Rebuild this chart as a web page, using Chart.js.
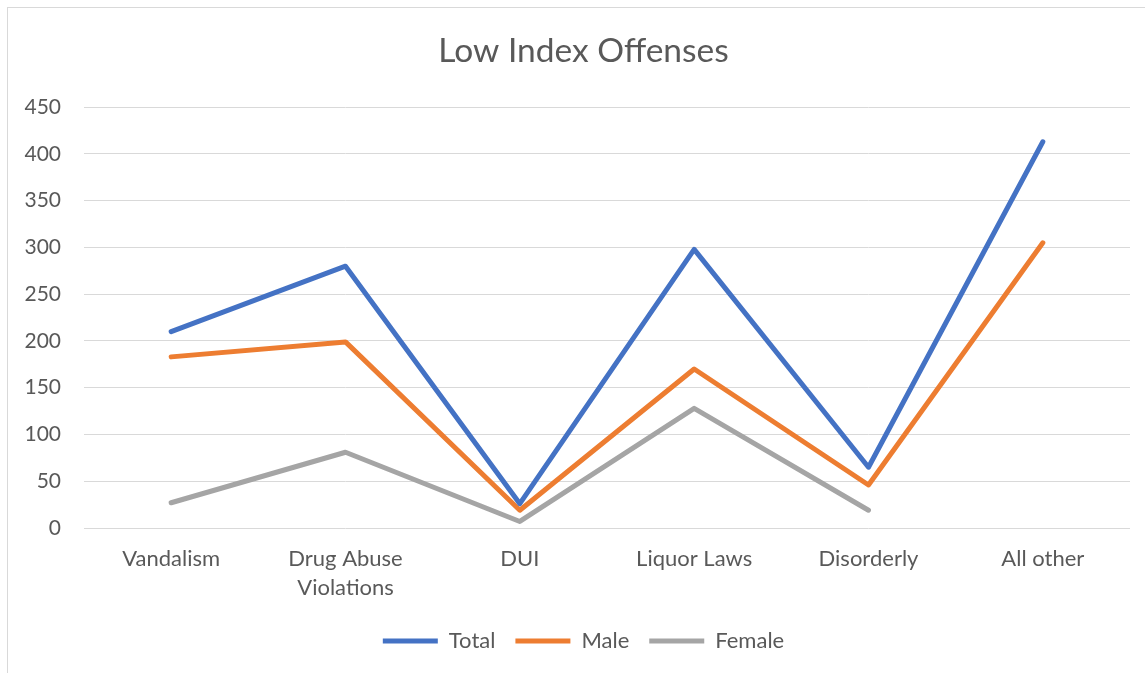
<!DOCTYPE html>
<html>
<head>
<meta charset="utf-8">
<script src="https://cdn.jsdelivr.net/npm/chart.js@4.4.0/dist/chart.umd.min.js"></script>
<style>
    html, body { margin: 0; padding: 0; background: #fff; overflow: hidden; }
    #wrap {
        position: absolute; left: 7px; top: 7px;
        width: 1153px; height: 680px;
        border: 1px solid #d9d9d9; box-sizing: border-box;
    }
    canvas { display: block; }
</style>
</head>
<body>
<div id="wrap"><canvas id="chart"></canvas></div>
<script>
// Datos
const categories = ['Vandalism', ['Drug Abuse', 'Violations'], 'DUI', 'Liquor Laws', 'Disorderly', 'All other'];
const totalValues = [210, 280, 26, 298, 65, 413];
const maleValues = [183, 199, 19, 170, 46, 305];
const femaleValues = [27, 81, 7, 128, 19, null];
const yTicks = [0, 50, 100, 150, 200, 250, 300, 350, 400, 450];

const textColor = '#595959';
const fontFamily = 'Lato, "Open Sans", sans-serif';

function lineDataset(label, data, color) {
    return {
        label: label,
        data: data,
        borderColor: color,
        backgroundColor: color,
        borderWidth: 5,
        borderCapStyle: 'round',
        borderJoinStyle: 'round',
        pointRadius: 0,
        pointHoverRadius: 0,
        tension: 0,
        spanGaps: false
    };
}

const ctx = document.getElementById('chart').getContext('2d');
new Chart(ctx, {
    type: 'line',
    data: {
        labels: categories,
        datasets: [
            lineDataset('Total', totalValues, '#4472C4'),
            lineDataset('Male', maleValues, '#ED7D31'),
            lineDataset('Female', femaleValues, '#A5A5A5')
        ]
    },
    options: {
        responsive: true,
        maintainAspectRatio: false,
        animation: false,
        layout: { padding: { left: 0, right: 0, top: 0, bottom: 24 } },
        plugins: {
            title: {
                display: true,
                text: 'Low Index Offenses',
                color: textColor,
                font: { family: fontFamily, size: 33.5, weight: 'normal', lineHeight: 1.2 },
                padding: { top: 23, bottom: 36 }
            },
            legend: {
                position: 'bottom',
                labels: {
                    color: textColor,
                    font: { family: fontFamily, size: 22 },
                    usePointStyle: true,
                    pointStyle: 'line',
                    pointStyleWidth: 55,
                    boxHeight: 22,
                    padding: 20
                }
            },
            tooltip: { enabled: false }
        },
        scales: {
            x: {
                offset: true,
                grid: { display: false },
                border: { display: false },
                ticks: {
                    color: textColor,
                    font: { family: fontFamily, size: 22, lineHeight: 1.32 },
                    padding: 8,
                    maxRotation: 0,
                    autoSkip: false
                },
                afterFit: function(scale) { scale.height = 82; }
            },
            y: {
                min: 0,
                max: 450,
                afterBuildTicks: function(scale) {
                    scale.ticks = yTicks.map(v => ({ value: v }));
                },
                grid: { color: '#d9d9d9', lineWidth: 1, drawTicks: false },
                border: { display: false },
                ticks: {
                    color: textColor,
                    font: { family: fontFamily, size: 21 },
                    padding: 23
                },
                afterFit: function(scale) { scale.width = 76; }
            },
            // eje vacío a la derecha para dejar el margen sin descentrar título y leyenda
            yRight: {
                position: 'right',
                min: 0,
                max: 450,
                grid: { display: false },
                border: { display: false },
                ticks: { display: false },
                afterFit: function(scale) { scale.width = 29; }
            }
        }
    }
});
</script>
</body>
</html>
